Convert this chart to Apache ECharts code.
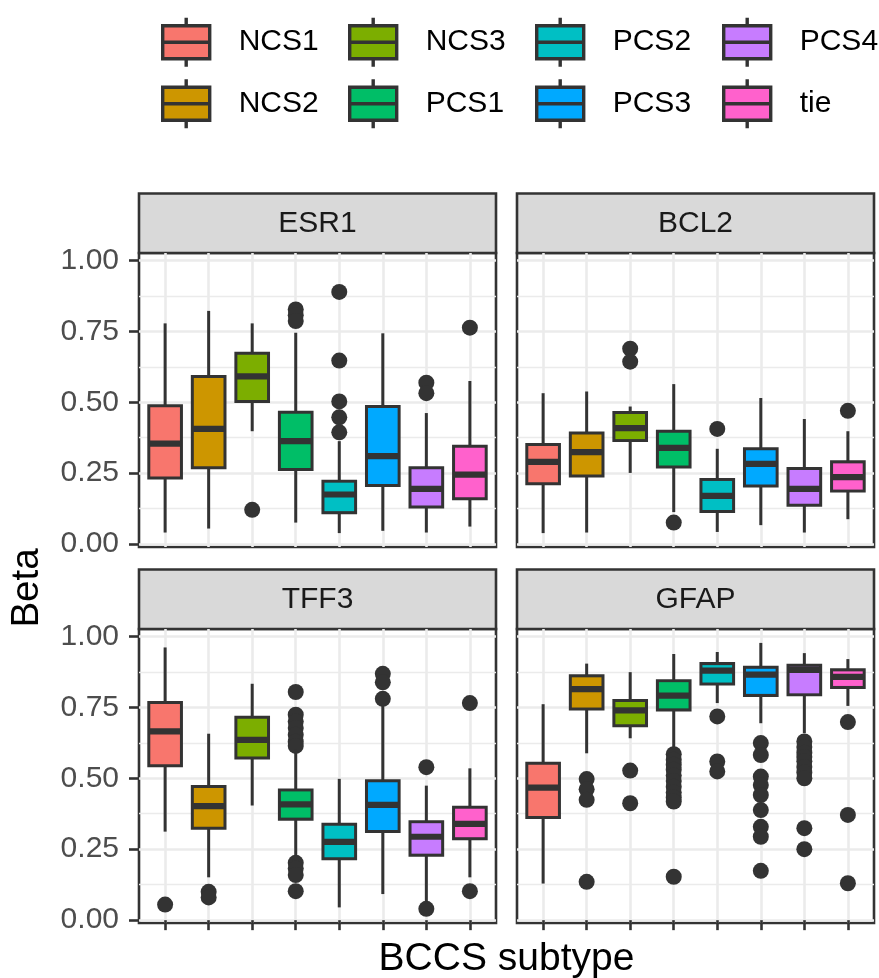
<!DOCTYPE html>
<html>
<head>
<meta charset="utf-8">
<script src="https://cdn.jsdelivr.net/npm/echarts@6/dist/echarts.min.js"></script>
<style>
  html, body { margin: 0; padding: 0; background: #fff; }
  #chart { width: 879px; height: 978px; }
</style>
</head>
<body>
<div id="chart"></div>
<script>
// categories
const subtypes = ['NCS1', 'NCS2', 'NCS3', 'PCS1', 'PCS2', 'PCS3', 'PCS4', 'tie']
const genes = ['ESR1', 'BCL2', 'TFF3', 'GFAP']

// box stats per subtype: [lower whisker, Q1, median, Q3, upper whisker]
const esr1Box = [
  [0.041, 0.233, 0.354, 0.488, 0.778],
  [0.055, 0.269, 0.406, 0.591, 0.822],
  [0.398, 0.503, 0.591, 0.673, 0.778],
  [0.076, 0.263, 0.363, 0.465, 0.745],
  [0.039, 0.111, 0.175, 0.222, 0.363],
  [0.047, 0.207, 0.310, 0.485, 0.743],
  [0.041, 0.131, 0.195, 0.269, 0.462],
  [0.062, 0.160, 0.245, 0.345, 0.575]
]
const bcl2Box = [
  [0.039, 0.213, 0.290, 0.351, 0.532],
  [0.041, 0.240, 0.324, 0.392, 0.538],
  [0.251, 0.365, 0.409, 0.464, 0.485],
  [0.113, 0.272, 0.339, 0.398, 0.564],
  [0.043, 0.115, 0.170, 0.228, 0.336],
  [0.067, 0.205, 0.283, 0.336, 0.515],
  [0.041, 0.137, 0.195, 0.267, 0.441],
  [0.088, 0.187, 0.236, 0.290, 0.398]
]
const tff3Box = [
  [0.312, 0.544, 0.665, 0.767, 0.961],
  [0.151, 0.324, 0.402, 0.471, 0.657],
  [0.404, 0.571, 0.635, 0.715, 0.833],
  [0.229, 0.356, 0.408, 0.459, 0.600],
  [0.045, 0.216, 0.276, 0.338, 0.498],
  [0.092, 0.312, 0.406, 0.491, 0.760],
  [0.059, 0.229, 0.294, 0.347, 0.474],
  [0.151, 0.287, 0.339, 0.398, 0.535]
]
const gfapBox = [
  [0.129, 0.362, 0.467, 0.553, 0.761],
  [0.588, 0.744, 0.814, 0.861, 0.904],
  [0.641, 0.685, 0.739, 0.774, 0.874],
  [0.605, 0.741, 0.791, 0.844, 0.938],
  [0.765, 0.832, 0.879, 0.904, 0.945],
  [0.694, 0.792, 0.865, 0.891, 0.977],
  [0.659, 0.794, 0.882, 0.898, 0.941],
  [0.755, 0.820, 0.857, 0.882, 0.920]
]

// outliers per subtype
const esr1Out = [[], [], [0.121], [0.827, 0.807, 0.786], [0.889, 0.647, 0.503, 0.447, 0.394], [], [0.569, 0.532], [0.763]]
const bcl2Out = [[], [], [0.689, 0.643], [0.076], [0.406], [], [], [0.470]]
const tff3Out = [
  [0.055], [0.100, 0.080], [],
  [0.804, 0.724, 0.700, 0.677, 0.653, 0.629, 0.614, 0.202, 0.182, 0.159, 0.102],
  [], [0.868, 0.838, 0.780], [0.539, 0.040], [0.765, 0.102]
]
const gfapOut = [
  [], [0.497, 0.461, 0.424, 0.135], [0.527, 0.412],
  [0.585, 0.565, 0.548, 0.530, 0.510, 0.490, 0.470, 0.450, 0.432, 0.418, 0.153],
  [0.718, 0.559, 0.524],
  [0.624, 0.582, 0.506, 0.476, 0.441, 0.388, 0.329, 0.294, 0.174],
  [0.630, 0.610, 0.590, 0.575, 0.560, 0.540, 0.520, 0.500, 0.324, 0.250],
  [0.698, 0.371, 0.130]
]

// y axis ticks
const yTicks = [0, 0.25, 0.5, 0.75, 1]
const yTickLabels = ['0.00', '0.25', '0.50', '0.75', '1.00']
const yMinor = [0.125, 0.375, 0.625, 0.875]

const boxes = [esr1Box, bcl2Box, tff3Box, gfapBox]
const outliers = [esr1Out, bcl2Out, tff3Out, gfapOut]

const colors = ['#F8766D', '#CD9600', '#7CAE00', '#00BE67', '#00BFC4', '#00A9FF', '#C77CFF', '#FF61CC']
const DARK = '#333333'
const GRID_LINE = '#EBEBEB'
const FONT = 'Liberation Sans, Arial, Helvetica, sans-serif'
const LW = 2.6
const BOX_LW = 3
const BOX_W = 0.75
const Y_MIN = -0.01
const Y_MAX = 1.026

// panel layout (px)
const panelLeft = [139, 517, 139, 517]
const panelTop = [253, 253, 629, 629]
const PANEL_W = 357
const PANEL_H = 294
const STRIP_H = 59.5

const xPos = subtypes.map((s, i) => i + 1)

// box drawn from filled rects so the line weights come out solid
function renderBox(params, api) {
  const x = api.value(0)
  const half = api.size([BOX_W, 0])[0] / 2
  const mid = api.coord([x, api.value(3)])
  const lo = api.coord([x, api.value(1)])[1]
  const q1 = api.coord([x, api.value(2)])[1]
  const q3 = api.coord([x, api.value(4)])[1]
  const hi = api.coord([x, api.value(5)])[1]
  const h = BOX_LW / 2
  const dark = { fill: DARK }
  return {
    type: 'group',
    children: [
      { type: 'rect', shape: { x: mid[0] - h, y: hi, width: BOX_LW, height: lo - hi }, style: dark },
      { type: 'rect', shape: { x: mid[0] - half - h, y: q3 - h, width: half * 2 + BOX_LW, height: q1 - q3 + BOX_LW }, style: dark },
      { type: 'rect', shape: { x: mid[0] - half + h, y: q3 + h, width: half * 2 - BOX_LW, height: q1 - q3 - BOX_LW }, style: { fill: api.visual('color') } },
      { type: 'rect', shape: { x: mid[0] - half, y: mid[1] - 3.1, width: half * 2, height: 6.2 }, style: dark }
    ]
  }
}

const grid = []
const xAxis = []
const yAxis = []
const series = []
const graphic = []

genes.forEach((gene, g) => {
  const isLeft = g % 2 === 0
  const isBottom = g >= 2
  grid.push({
    left: panelLeft[g], top: panelTop[g], width: PANEL_W, height: PANEL_H,
    show: true, borderColor: DARK, borderWidth: LW, backgroundColor: '#fff'
  })
  xAxis.push({
    type: 'value', gridIndex: g, min: 0.4, max: 8.6,
    axisLine: { show: false },
    axisLabel: { show: false },
    axisTick: { show: isBottom, length: 10, customValues: xPos, lineStyle: { color: DARK, width: LW } },
    splitLine: { show: true, lineStyle: { color: GRID_LINE, width: LW } }
  })
  // major y axis
  yAxis.push({
    type: 'value', gridIndex: g, min: Y_MIN, max: Y_MAX,
    axisLine: { show: false },
    axisTick: { show: isLeft, length: 10, customValues: yTicks, lineStyle: { color: DARK, width: LW } },
    axisLabel: {
      show: isLeft, customValues: yTicks, margin: 20,
      fontSize: 30, fontFamily: FONT, color: '#4D4D4D',
      formatter: v => yTickLabels[yTicks.indexOf(v)]
    },
    splitLine: { show: true, lineStyle: { color: GRID_LINE, width: LW } }
  })
  // minor grid lines
  yAxis.push({
    type: 'value', gridIndex: g, min: Y_MIN, max: Y_MAX, position: 'left',
    axisLine: { show: false },
    axisTick: { show: false, customValues: yMinor },
    axisLabel: { show: false },
    splitLine: { show: true, lineStyle: { color: GRID_LINE, width: 1.3 } }
  })

  subtypes.forEach((name, i) => {
    const b = boxes[g][i]
    series.push({
      type: 'custom', name: name,
      xAxisIndex: g, yAxisIndex: g * 2,
      itemStyle: { color: colors[i] },
      renderItem: renderBox,
      encode: { x: 0, y: [1, 2, 3, 4, 5] },
      data: [[xPos[i], b[0], b[1], b[2], b[3], b[4]]],
      z: 3
    })
  })
  const pts = []
  outliers[g].forEach((list, i) => list.forEach(v => pts.push([xPos[i], v])))
  series.push({
    type: 'scatter', name: 'outlier',
    xAxisIndex: g, yAxisIndex: g * 2,
    symbol: 'circle', symbolSize: 16,
    itemStyle: { color: DARK, opacity: 1 },
    data: pts,
    z: 2
  })

  // facet strip
  graphic.push({
    type: 'rect',
    shape: { x: panelLeft[g], y: panelTop[g] - STRIP_H, width: PANEL_W, height: STRIP_H },
    style: { fill: '#D9D9D9', stroke: DARK, lineWidth: LW }
  })
  graphic.push({
    type: 'text',
    x: panelLeft[g] + PANEL_W / 2, y: panelTop[g] - STRIP_H / 2,
    style: { text: gene, fontSize: 30, fontFamily: FONT, fill: '#1A1A1A', align: 'center', verticalAlign: 'middle' }
  })
})

// axis titles
graphic.push({
  type: 'text', x: 506.5, y: 959,
  style: { text: 'BCCS subtype', fontSize: 39, fontFamily: FONT, fill: '#000', align: 'center', verticalAlign: 'middle' }
})
graphic.push({
  type: 'text', x: 27.5, y: 588, rotation: Math.PI / 2,
  style: { text: 'Beta', fontSize: 38.5, fontFamily: FONT, fill: '#000', align: 'center', verticalAlign: 'middle' }
})

// legend: 4 columns x 2 rows, column-major like ggplot
const boxIcon = 'path://M23.5,0L23.5,8M0,8L47,8L47,41L0,41ZM0,24.5L47,24.5M23.5,41L23.5,49'
const legendCols = [161, 348, 535, 722]
const legendRows = [16, 77.5]
const legend = subtypes.map((name, i) => ({
  left: legendCols[Math.floor(i / 2)],
  top: legendRows[i % 2],
  padding: 0, itemGap: 0,
  itemWidth: 47, itemHeight: 49,
  selectedMode: false,
  icon: boxIcon,
  itemStyle: { color: colors[i], borderColor: DARK, borderWidth: 3.4 },
  textStyle: { fontSize: 30, fontFamily: FONT, color: '#000', padding: [0, 0, 0, 24] },
  data: [name]
}))

const chart = echarts.init(document.getElementById('chart'))
chart.setOption({
  animation: false,
  textStyle: { fontFamily: FONT },
  legend,
  grid,
  xAxis,
  yAxis,
  series,
  graphic
})
</script>
</body>
</html>
